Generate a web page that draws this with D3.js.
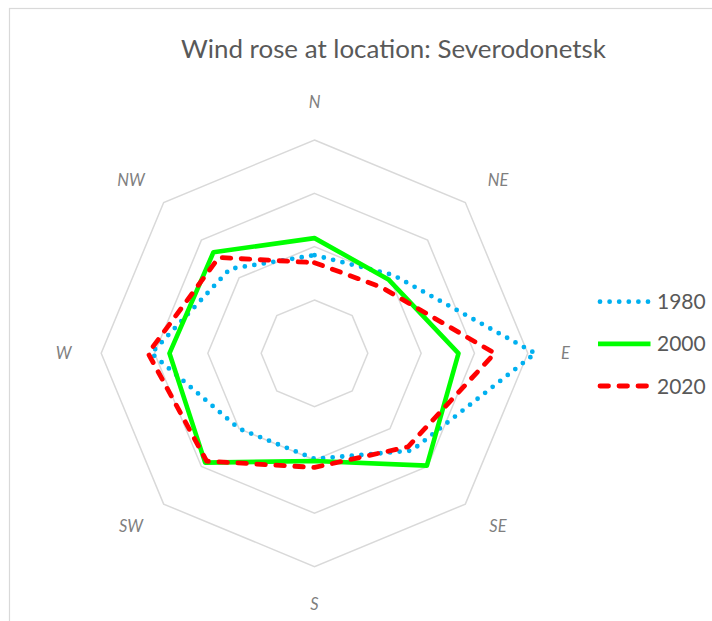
<!DOCTYPE html>
<html>
<head>
<meta charset="utf-8">
<script src="https://cdn.jsdelivr.net/npm/d3@7"></script>
<style>
  html, body { margin: 0; padding: 0; background: #fff; }
  svg { display: block; }
</style>
</head>
<body>
<svg id="chart" width="712" height="621"></svg>
<script>
// Wind direction frequencies (% of observations) per compass sector
const directions = ["N", "NE", "E", "SE", "S", "SW", "W", "NW"];
const years = ["1980", "2000", "2020"];
const values1980 = [9.2, 10.4, 20.7, 12.9, 9.9, 10.0, 15.3, 11.2];
const values2000 = [10.8, 9.8, 13.5, 14.9, 10.1, 14.5, 13.6, 13.4];
const values2020 = [8.5, 8.8, 16.9, 12.4, 10.7, 14.3, 15.6, 12.7];
const gridLevels = [5, 10, 15, 20];

const seriesValues = [values1980, values2000, values2020];
const seriesStyle = [
  { color: "#00b0f0", width: 4.8, dash: "0 9.6", cap: "round" },
  { color: "#00ff00", width: 4.6, dash: null, cap: "butt" },
  { color: "#ff0000", width: 4.8, dash: "8.5 10.5", cap: "round" }
];

const svg = d3.select("#chart");
const cx = 314.5, cy = 353.3, outerR = 213.3;

// chart area frame
svg.append("rect")
  .attr("x", 9.5).attr("y", 8.5)
  .attr("width", 720).attr("height", 640)
  .attr("fill", "none").attr("stroke", "#d9d9d9").attr("stroke-width", 1.2);

svg.append("text")
  .attr("x", 393.5).attr("y", 58)
  .attr("text-anchor", "middle")
  .attr("font-family", "Lato, 'Open Sans', sans-serif")
  .attr("font-size", 25)
  .attr("fill", "#595959")
  .attr("textLength", 425)
  .attr("lengthAdjust", "spacingAndGlyphs")
  .text("Wind rose at location: Severodonetsk");

const r = d3.scaleLinear().domain([0, d3.max(gridLevels)]).range([0, outerR]);
const angle = d3.scalePoint().domain(directions).range([0, 2 * Math.PI * (directions.length - 1) / directions.length]);

const g = svg.append("g").attr("transform", `translate(${cx},${cy})`);

const radial = d3.lineRadial()
  .angle((d, i) => angle(directions[i]))
  .radius(d => r(d))
  .curve(d3.curveLinearClosed);

// concentric octagon gridlines
g.selectAll("path.grid")
  .data(gridLevels)
  .join("path")
  .attr("class", "grid")
  .attr("d", lv => radial(directions.map(() => lv)))
  .attr("fill", "none")
  .attr("stroke", "#d9d9d9")
  .attr("stroke-width", 1.5);

// direction labels
const labelR = 251;
g.selectAll("text.dir")
  .data(directions)
  .join("text")
  .attr("class", "dir")
  .attr("x", d => {
    const a = angle(d);
    return Math.sin(a) * (labelR + 8.5 * Math.abs(Math.sin(2 * a)));
  })
  .attr("y", d => {
    const a = angle(d);
    return -Math.cos(a) * (labelR - 6 * Math.abs(Math.sin(2 * a)));
  })
  .attr("dy", "0.36em")
  .attr("text-anchor", "middle")
  .attr("font-family", "Lato, 'Open Sans', sans-serif")
  .attr("font-style", "italic")
  .attr("font-size", 16.5)
  .attr("fill", "#7f7f7f")
  .text(d => d);

// data series
g.selectAll("path.series")
  .data(seriesValues)
  .join("path")
  .attr("class", "series")
  .attr("d", d => radial(d))
  .attr("fill", "none")
  .attr("stroke", (d, i) => seriesStyle[i].color)
  .attr("stroke-width", (d, i) => seriesStyle[i].width)
  .attr("stroke-dasharray", (d, i) => seriesStyle[i].dash)
  .attr("stroke-linecap", (d, i) => seriesStyle[i].cap)
  .attr("stroke-linejoin", "round");

// legend
const legend = svg.append("g");
const legendY = d3.scalePoint().domain(years).range([301.7, 386]);
const items = legend.selectAll("g").data(years).join("g")
  .attr("transform", d => `translate(0,${legendY(d)})`);
items.append("line")
  .attr("x1", (d, i) => seriesStyle[i].cap === "round" ? 600 : 598)
  .attr("x2", (d, i) => seriesStyle[i].cap === "round" ? 648.5 : 650.5)
  .attr("y1", 0).attr("y2", 0)
  .attr("stroke", (d, i) => seriesStyle[i].color)
  .attr("stroke-width", (d, i) => seriesStyle[i].width)
  .attr("stroke-dasharray", (d, i) => seriesStyle[i].dash)
  .attr("stroke-linecap", (d, i) => seriesStyle[i].cap);
items.append("text")
  .attr("x", 657)
  .attr("dy", "0.36em")
  .attr("font-family", "Lato, 'Open Sans', sans-serif")
  .attr("font-size", 21)
  .attr("fill", "#595959")
  .text(d => d);
</script>
</body>
</html>
